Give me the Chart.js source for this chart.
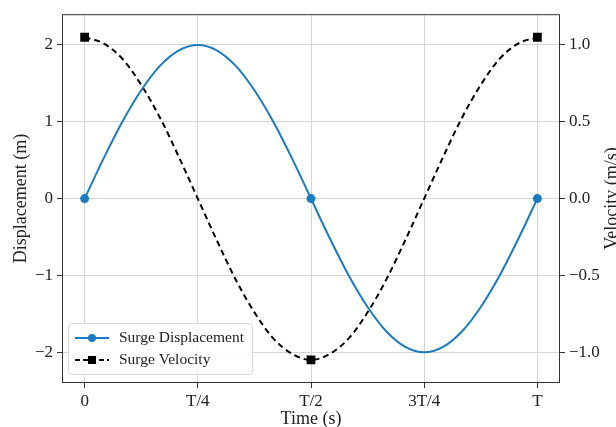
<!DOCTYPE html>
<html>
<head>
<meta charset="utf-8">
<script src="https://cdn.jsdelivr.net/npm/chart.js@4/dist/chart.umd.min.js"></script>
<style>
  html, body { margin: 0; padding: 0; background: #fff; }
  #wrap { width: 616px; height: 427px; }
</style>
</head>
<body>
<div id="wrap"><canvas id="c" width="616" height="427"></canvas></div>
<script>
// time as fraction of period T
const timePoints = [0, 0.0417, 0.0833, 0.125, 0.1667, 0.2083, 0.25, 0.2917, 0.3333, 0.375, 0.4167, 0.4583,
  0.5, 0.5417, 0.5833, 0.625, 0.6667, 0.7083, 0.75, 0.7917, 0.8333, 0.875, 0.9167, 0.9583, 1];
const displacement = [0, 0.52, 1.0, 1.41, 1.73, 1.93, 2.0, 1.93, 1.73, 1.41, 1.0, 0.52,
  0, -0.52, -1.0, -1.41, -1.73, -1.93, -2.0, -1.93, -1.73, -1.41, -1.0, -0.52, 0];
const velocity = [1.05, 1.01, 0.91, 0.74, 0.525, 0.27, 0, -0.27, -0.525, -0.74, -0.91, -1.01,
  -1.05, -1.01, -0.91, -0.74, -0.525, -0.27, 0, 0.27, 0.525, 0.74, 0.91, 1.01, 1.05];
const markerIdx = [0, 12, 24];
const xTicks = [0, 0.25, 0.5, 0.75, 1];
const xTickLabels = ['0', 'T/4', 'T/2', '3T/4', 'T'];
const dispTicks = [-2, -1, 0, 1, 2];
const velTicks = [-1.0, -0.5, 0.0, 0.5, 1.0];

const BLUE = '#1a7bc2';
const FONT = '"Liberation Serif", "DejaVu Serif", serif';

const pts = arr => arr.map((v, i) => ({ x: timePoints[i], y: v }));
const marks = (r) => timePoints.map((_, i) => markerIdx.includes(i) ? r : 0);

const frameAndLabels = {
  id: 'frameAndLabels',
  afterDatasetsDraw(chart) {
    const { ctx, chartArea: a } = chart;
    ctx.save();
    ctx.strokeStyle = '#333';
    ctx.lineWidth = 1;
    ctx.strokeRect(a.left + 0.5, a.top + 0.5, a.right - a.left - 1, a.bottom - a.top - 1);

    // legend
    const lx = a.left + 6, ly = a.bottom - 60, lw = 184, lh = 51;
    ctx.fillStyle = 'rgba(255,255,255,0.85)';
    ctx.strokeStyle = '#d8d8d8';
    ctx.beginPath();
    ctx.roundRect(lx + 0.5, ly + 0.5, lw, lh, 3);
    ctx.fill();
    ctx.stroke();
    const items = [
      { label: 'Surge Displacement', color: BLUE, dash: [], shape: 'circle' },
      { label: 'Surge Velocity', color: '#000', dash: [5, 3], shape: 'rect' }
    ];
    items.forEach((it, k) => {
      const y = ly + 15 + k * 22;
      ctx.strokeStyle = it.color;
      ctx.lineWidth = 2;
      ctx.setLineDash(it.dash);
      ctx.beginPath();
      ctx.moveTo(lx + 7, y);
      ctx.lineTo(lx + 41, y);
      ctx.stroke();
      ctx.setLineDash([]);
      ctx.fillStyle = it.color;
      ctx.beginPath();
      if (it.shape === 'circle') ctx.arc(lx + 24, y, 4, 0, Math.PI * 2);
      else ctx.rect(lx + 20, y - 4, 8, 8);
      ctx.fill();
      ctx.fillStyle = '#222';
      ctx.font = '15.5px ' + FONT;
      ctx.textBaseline = 'middle';
      ctx.textAlign = 'left';
      ctx.fillText(it.label, lx + 51, y);
    });

    // right axis title, reading bottom to top
    ctx.save();
    ctx.translate(612, (a.top + a.bottom) / 2);
    ctx.rotate(-Math.PI / 2);
    ctx.fillStyle = '#222';
    ctx.font = '18px ' + FONT;
    ctx.textAlign = 'center';
    ctx.textBaseline = 'middle';
    ctx.fillText('Velocity (m/s)', 0, 0);
    ctx.restore();
    ctx.restore();
  }
};

new Chart(document.getElementById('c'), {
  type: 'line',
  data: {
    datasets: [
      {
        label: 'Surge Displacement',
        data: pts(displacement),
        yAxisID: 'y',
        borderColor: BLUE,
        backgroundColor: BLUE,
        borderWidth: 2,
        pointRadius: marks(4.5),
        pointHoverRadius: 0,
        pointBorderWidth: 0,
        cubicInterpolationMode: 'monotone'
      },
      {
        label: 'Surge Velocity',
        data: pts(velocity),
        yAxisID: 'y1',
        borderColor: '#000',
        backgroundColor: '#000',
        borderWidth: 2,
        borderDash: [6, 4],
        pointStyle: 'rect',
        pointRadius: marks(6.2),
        pointHoverRadius: 0,
        pointBorderWidth: 0,
        cubicInterpolationMode: 'monotone'
      }
    ]
  },
  options: {
    responsive: false,
    animation: false,
    layout: { padding: { top: 12, left: 0, right: 0, bottom: 0 } },
    plugins: { legend: { display: false }, tooltip: { enabled: false } },
    scales: {
      x: {
        type: 'linear',
        min: -0.05, max: 1.05,
        afterBuildTicks: s => { s.ticks = xTicks.map(v => ({ value: v })); },
        afterFit: s => { s.height = 44; },
        ticks: {
          callback: v => xTickLabels[xTicks.indexOf(v)],
          color: '#222', font: { family: FONT, size: 17 }, padding: 3, maxRotation: 0
        },
        grid: { color: '#d4d4d4', tickColor: '#333', tickLength: 5 },
        border: { display: false },
        title: { display: true, text: 'Time (s)', color: '#222', font: { family: FONT, size: 18 }, padding: { top: -3, bottom: -3 } }
      },
      y: {
        position: 'left',
        min: -2.4, max: 2.4,
        afterBuildTicks: s => { s.ticks = dispTicks.map(v => ({ value: v })); },
        afterFit: s => { s.width = 62; },
        ticks: {
          callback: v => (v < 0 ? '\u2212' + Math.abs(v) : String(v)),
          color: '#222', font: { family: FONT, size: 17 }, padding: 4
        },
        grid: { color: '#d4d4d4', tickColor: '#333', tickLength: 5 },
        border: { display: false },
        title: { display: true, text: 'Displacement (m)', color: '#222', font: { family: FONT, size: 18 }, padding: { top: 10, bottom: 10 } }
      },
      y1: {
        position: 'right',
        min: -1.2, max: 1.2,
        afterBuildTicks: s => { s.ticks = velTicks.map(v => ({ value: v })); },
        afterFit: s => { s.width = 56; },
        ticks: {
          callback: v => (v < 0 ? '\u2212' + Math.abs(v).toFixed(1) : v.toFixed(1)),
          color: '#222', font: { family: FONT, size: 17 }, padding: 4
        },
        grid: { drawOnChartArea: false, tickColor: '#333', tickLength: 5 },
        border: { display: false }
      }
    }
  },
  plugins: [frameAndLabels]
});
</script>
</body>
</html>
